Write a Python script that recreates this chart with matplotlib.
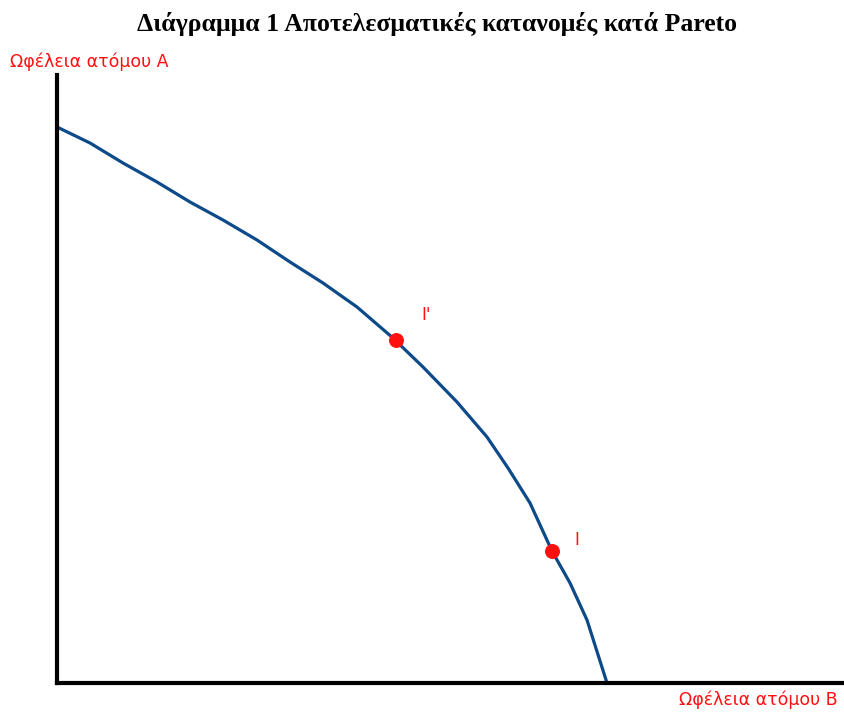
import matplotlib.pyplot as plt

plt.rcParams["font.family"] = ["DejaVu Sans"]

# Pareto frontier (utility of B, utility of A)
utility_b = [0, 33, 66, 100, 133, 166, 200, 233, 266, 300, 336, 338, 366, 400, 430, 451, 473, 495, 513, 530, 550]
utility_a = [556, 540, 520, 501, 481, 463, 443, 421, 400, 376, 345, 343, 316, 281, 246, 215, 180, 132, 100, 63, 0]

# the two allocations marked in red
point_names = ["I'", "I"]
point_b = [339, 495]
point_a = [343, 132]

title = "Διάγραμμα 1 Αποτελεσματικές κατανομές κατά Pareto"
ylabel = "Ωφέλεια ατόμου Α"
xlabel = "Ωφέλεια ατόμου Β"

fig = plt.figure(figsize=(8.44, 7.14), dpi=100)
ax = fig.add_axes([57 / 844, 1 - 683 / 714, 787 / 844, 608 / 714])

ax.plot(utility_b, utility_a, color="#0d4a8a", linewidth=2.3,
        solid_joinstyle="round", solid_capstyle="butt")
ax.scatter(point_b, point_a, s=95, color="#ff1010", zorder=3)
ax.text(point_b[0] + 25, point_a[0] + 20, point_names[0], color="#ff1010", fontsize=12)
ax.text(point_b[1] + 22, point_a[1] + 6, point_names[1], color="#ff1010", fontsize=12)

ax.set_xlim(0, 787)
ax.set_ylim(0, 608)
ax.set_xticks([])
ax.set_yticks([])
for side in ["top", "right"]:
    ax.spines[side].set_visible(False)
for side in ["left", "bottom"]:
    ax.spines[side].set_linewidth(3)
    ax.spines[side].set_color("black")

fig.text(437 / 844, 1 - 24 / 714, title, ha="center", va="center",
         fontsize=18.5, fontweight="bold", family=["Liberation Serif", "DejaVu Serif"])
fig.text(10 / 844, 1 - 62 / 714, ylabel, ha="left", va="center", color="#ff1010", fontsize=12.5)
fig.text(838 / 844, 1 - 700 / 714, xlabel, ha="right", va="center", color="#ff1010", fontsize=12.5)

plt.savefig("out.png", dpi=100)
